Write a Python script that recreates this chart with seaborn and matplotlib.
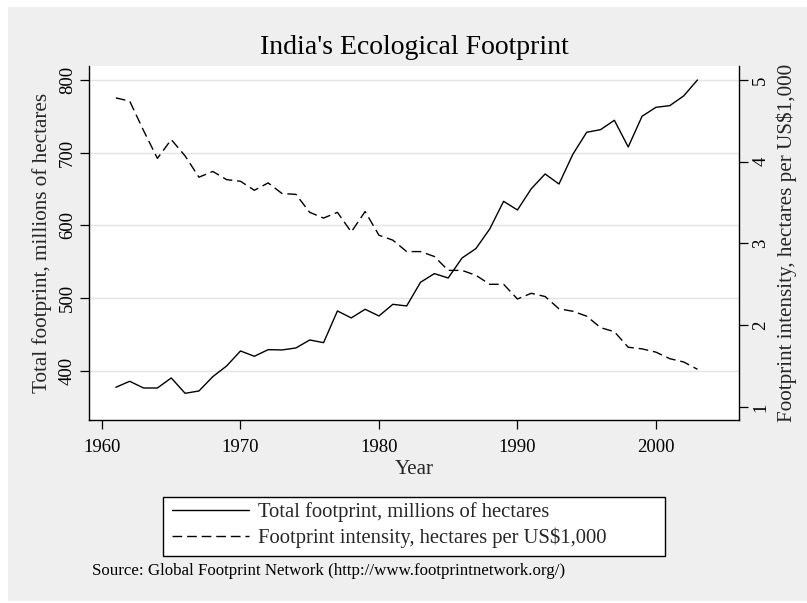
import pandas as pd
import matplotlib.pyplot as plt
from matplotlib.patches import Rectangle
from matplotlib.lines import Line2D
import seaborn as sns

# India's ecological footprint, 1961-2003
years = [1961, 1962, 1963, 1964, 1965, 1966, 1967, 1968, 1969, 1970,
         1971, 1972, 1973, 1974, 1975, 1976, 1977, 1978, 1979, 1980,
         1981, 1982, 1983, 1984, 1985, 1986, 1987, 1988, 1989, 1990,
         1991, 1992, 1993, 1994, 1995, 1996, 1997, 1998, 1999, 2000,
         2001, 2002, 2003]
total_footprint = [377.6, 385.8, 376.6, 376.6, 390.4, 369.3, 372.5, 392.2, 406.9, 427.5,
                   420.2, 429.3, 428.9, 431.6, 442.6, 438.9, 482.5, 472.9, 484.8, 475.6,
                   491.6, 489.4, 521.9, 533.8, 527.8, 555.3, 568.2, 595.2, 633.2, 621.3,
                   650.5, 670.8, 657.0, 697.8, 728.1, 731.7, 744.6, 707.9, 750.1, 762.4,
                   764.7, 778.0, 800.0]
intensity = [4.78, 4.74, 4.38, 4.04, 4.27, 4.07, 3.81, 3.88, 3.78, 3.76,
             3.65, 3.74, 3.61, 3.60, 3.38, 3.31, 3.38, 3.14, 3.39, 3.10,
             3.04, 2.90, 2.90, 2.84, 2.67, 2.67, 2.61, 2.50, 2.50, 2.32,
             2.39, 2.35, 2.20, 2.17, 2.11, 1.97, 1.92, 1.73, 1.71, 1.67,
             1.59, 1.55, 1.46]
left_ticks = [400, 500, 600, 700, 800]
right_ticks = [1, 2, 3, 4, 5]
x_ticks = [1960, 1970, 1980, 1990, 2000]

label_total = "Total footprint, millions of hectares"
label_intensity = "Footprint intensity, hectares per US$1,000"

df = pd.DataFrame({"year": years, "total": total_footprint, "intensity": intensity})

sns.set_theme(style="white")
plt.rcParams['font.family'] = ['Liberation Serif', 'DejaVu Serif']

W, H = 807, 603
fig = plt.figure(figsize=(W / 100, H / 100), dpi=100, facecolor="white")
# gray graph region (Stata style)
fig.patches.append(Rectangle((8 / W, 2 / H), 1 - 8 / W, (H - 9) / H,
                             transform=fig.transFigure, facecolor="#efefef",
                             edgecolor="none", zorder=-10))

ax = fig.add_axes([89 / W, (H - 420) / H, (739 - 89) / W, (420 - 66) / H])
ax.set_facecolor("white")
ax2 = ax.twinx()

sns.lineplot(data=df, x="year", y="total", ax=ax, color="black", linewidth=1.0)
sns.lineplot(data=df, x="year", y="intensity", ax=ax2, color="black", linewidth=1.0)
ax2.lines[0].set_dashes((7, 3.5))

ax.set_xlim(1959.06, 2006.0)
ax.set_ylim(332.6, 819.2)
ax2.set_ylim(0.84, 5.17)

ax.set_xticks(x_ticks)
ax.set_yticks(left_ticks)
ax2.set_yticks(right_ticks)
ax.yaxis.grid(True, color="#e4e4e4", linewidth=1.0)
ax.set_axisbelow(True)

for a in (ax, ax2):
    for s in a.spines.values():
        s.set_visible(False)
ax.spines["left"].set_visible(True)
ax.spines["bottom"].set_visible(True)
ax2.spines["right"].set_visible(True)
for s in (ax.spines["left"], ax.spines["bottom"], ax2.spines["right"]):
    s.set_color("black")
    s.set_linewidth(1.0)

ax.tick_params(axis="both", which="major", labelsize=13.5, length=6.5, width=0.9,
               color="black", labelcolor="black", direction="out")
ax2.tick_params(axis="y", which="major", labelsize=13.5, length=6.5, width=0.9,
                color="black", labelcolor="black", direction="out", right=True)
ax.tick_params(axis="y", left=True, labelrotation=90, pad=3)
ax.tick_params(axis="x", bottom=True, pad=7)
ax2.tick_params(axis="y", labelrotation=90, pad=3)
for t in ax.get_yticklabels() + ax2.get_yticklabels():
    t.set_va("center")

ax.set_xlabel("Year", fontsize=15.2, labelpad=3)
ax.set_ylabel(label_total, fontsize=15.2, labelpad=5)
ax2.set_ylabel(label_intensity, fontsize=15.2, labelpad=5)

fig.text(414 / W, 1 - 47 / H, "India's Ecological Footprint", ha="center", va="center",
         fontsize=20, color="black")

# legend box drawn separately (Stata legends are wider than their contents)
fig.patches.append(Rectangle((163 / W, 1 - 556 / H), (665 - 163) / W, (556 - 497) / H,
                             transform=fig.transFigure, facecolor="white",
                             edgecolor="black", linewidth=1.0, zorder=1))
handles = [Line2D([], [], color="black", linewidth=1.0),
           Line2D([], [], color="black", linewidth=1.0, dashes=(7, 3.5))]
leg = fig.legend(handles, [label_total, label_intensity], loc="center left",
                 bbox_to_anchor=(164 / W, 1 - 525 / H), fontsize=14.9,
                 frameon=False, handlelength=3.7, handletextpad=0.45,
                 borderpad=0.4, labelspacing=0.25, borderaxespad=0)
leg.set_zorder(2)

fig.text(92 / W, 1 - 571 / H,
         "Source: Global Footprint Network (http://www.footprintnetwork.org/)",
         ha="left", va="center", fontsize=12.2, color="black")

plt.savefig("out.png", dpi=100, facecolor=fig.get_facecolor())
